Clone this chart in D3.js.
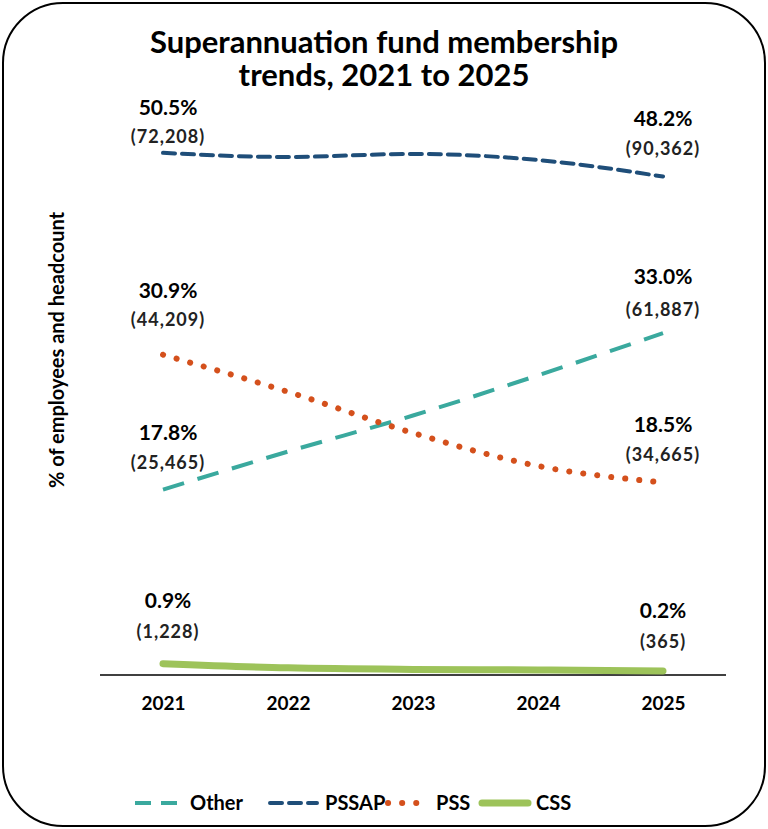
<!DOCTYPE html>
<html><head><meta charset="utf-8">
<script src="https://cdn.jsdelivr.net/npm/d3@7"></script>
<style>body{margin:0;background:#fff}text{font-family:Lato,"Open Sans",sans-serif}</style>
</head><body>
<svg id="c" width="768" height="829"></svg>
<script>
const years = ["2021","2022","2023","2024","2025"];
const other = [17.8, 21.5, 25.0, 28.9, 33.0];
const pssap = [50.5, 50.1, 50.4, 49.8, 48.2];
const pss = [30.9, 27.3, 23.3, 20.1, 18.5];
const css = [0.9, 0.5, 0.35, 0.3, 0.2];
const firstCounts = {Other:"(25,465)", PSSAP:"(72,208)", PSS:"(44,209)", CSS:"(1,228)"};
const lastCounts = {Other:"(61,887)", PSSAP:"(90,362)", PSS:"(34,665)", CSS:"(365)"};

const series = [
  {name:"Other", values:other, color:"#3aa99e", dash:"22,14", width:4, cap:"butt", first:[432,463], last:[276,310]},
  {name:"PSSAP", values:pssap, color:"#1f4e79", dash:"12,7", width:4, cap:"round", first:[107,137], last:[118,149]},
  {name:"PSS", values:pss, color:"#d4501c", dash:"0.1,14", width:6, cap:"round", first:[290,320], last:[424,455]},
  {name:"CSS", values:css, color:"#9dc35a", dash:null, width:7, cap:"round", first:[600,632], last:[610,642]}
];

const svg = d3.select("#c");
svg.append("rect").attr("x",3).attr("y",3).attr("width",762).attr("height",823)
  .attr("rx",60).attr("fill","#fff").attr("stroke","#000").attr("stroke-width",2);

svg.append("text").attr("x",384).attr("y",53).attr("text-anchor","middle")
  .style("font-size","31px").style("font-weight","bold").text("Superannuation fund membership");
svg.append("text").attr("x",384).attr("y",86).attr("text-anchor","middle")
  .style("font-size","31px").style("font-weight","bold").text("trends, 2021 to 2025");

const x = d3.scalePoint().domain(years).range([163,663]);
const y = d3.scaleLinear().domain([0,60]).range([673,55]);

svg.append("text").attr("transform","translate(64,350) rotate(-90)").attr("text-anchor","middle")
  .style("font-size","20px").style("font-weight","bold").text("% of employees and headcount");

const ax = svg.append("g").attr("transform","translate(0,675)")
  .call(d3.axisBottom(x).tickSize(0).tickPadding(22));
ax.select(".domain").attr("d","M100,0H726").attr("stroke","#000").attr("stroke-width",1.5);
ax.selectAll("text").style("font-size","19px").style("font-weight","bold").style("font-family","Lato,sans-serif").attr("fill","#000");

const line = d3.line().x((d,i)=>x(years[i])).y(d=>y(d)).curve(d3.curveMonotoneX);
series.forEach(s=>{
  svg.append("path").attr("d",line(s.values)).attr("fill","none").attr("stroke",s.color)
    .attr("stroke-width",s.width).attr("stroke-linecap",s.cap)
    .attr("stroke-dasharray",s.dash);
  const v0=s.values[0], v1=s.values[s.values.length-1];
  [[168,s.first,v0,firstCounts[s.name]],[663,s.last,v1,lastCounts[s.name]]].forEach(([cx,ys,v,c])=>{
    svg.append("text").attr("x",cx).attr("y",ys[0]+8).attr("text-anchor","middle")
      .style("font-size","21px").style("font-weight","bold").text(v.toFixed(1)+"%");
    svg.append("text").attr("x",cx).attr("y",ys[1]+6).attr("text-anchor","middle")
      .style("font-size","18px").style("letter-spacing","1px").style("font-weight","bold").attr("fill","#222").text(c);
  });
});

const leg = [[135,190],[270,325],[388,436],[482,536]];
series.forEach((s,i)=>{
  const [lx,tx]=leg[i];
  svg.append("line").attr("x1",lx).attr("x2",tx-8).attr("y1",803).attr("y2",803)
    .attr("stroke",s.color).attr("stroke-width",s.width).attr("stroke-linecap",s.cap)
    .attr("stroke-dasharray",s.name==="Other"?"16,10":s.dash);
  svg.append("text").attr("x",tx).attr("y",810).style("font-size","20px").style("font-weight","bold").text(s.name);
});
</script>
</body></html>
